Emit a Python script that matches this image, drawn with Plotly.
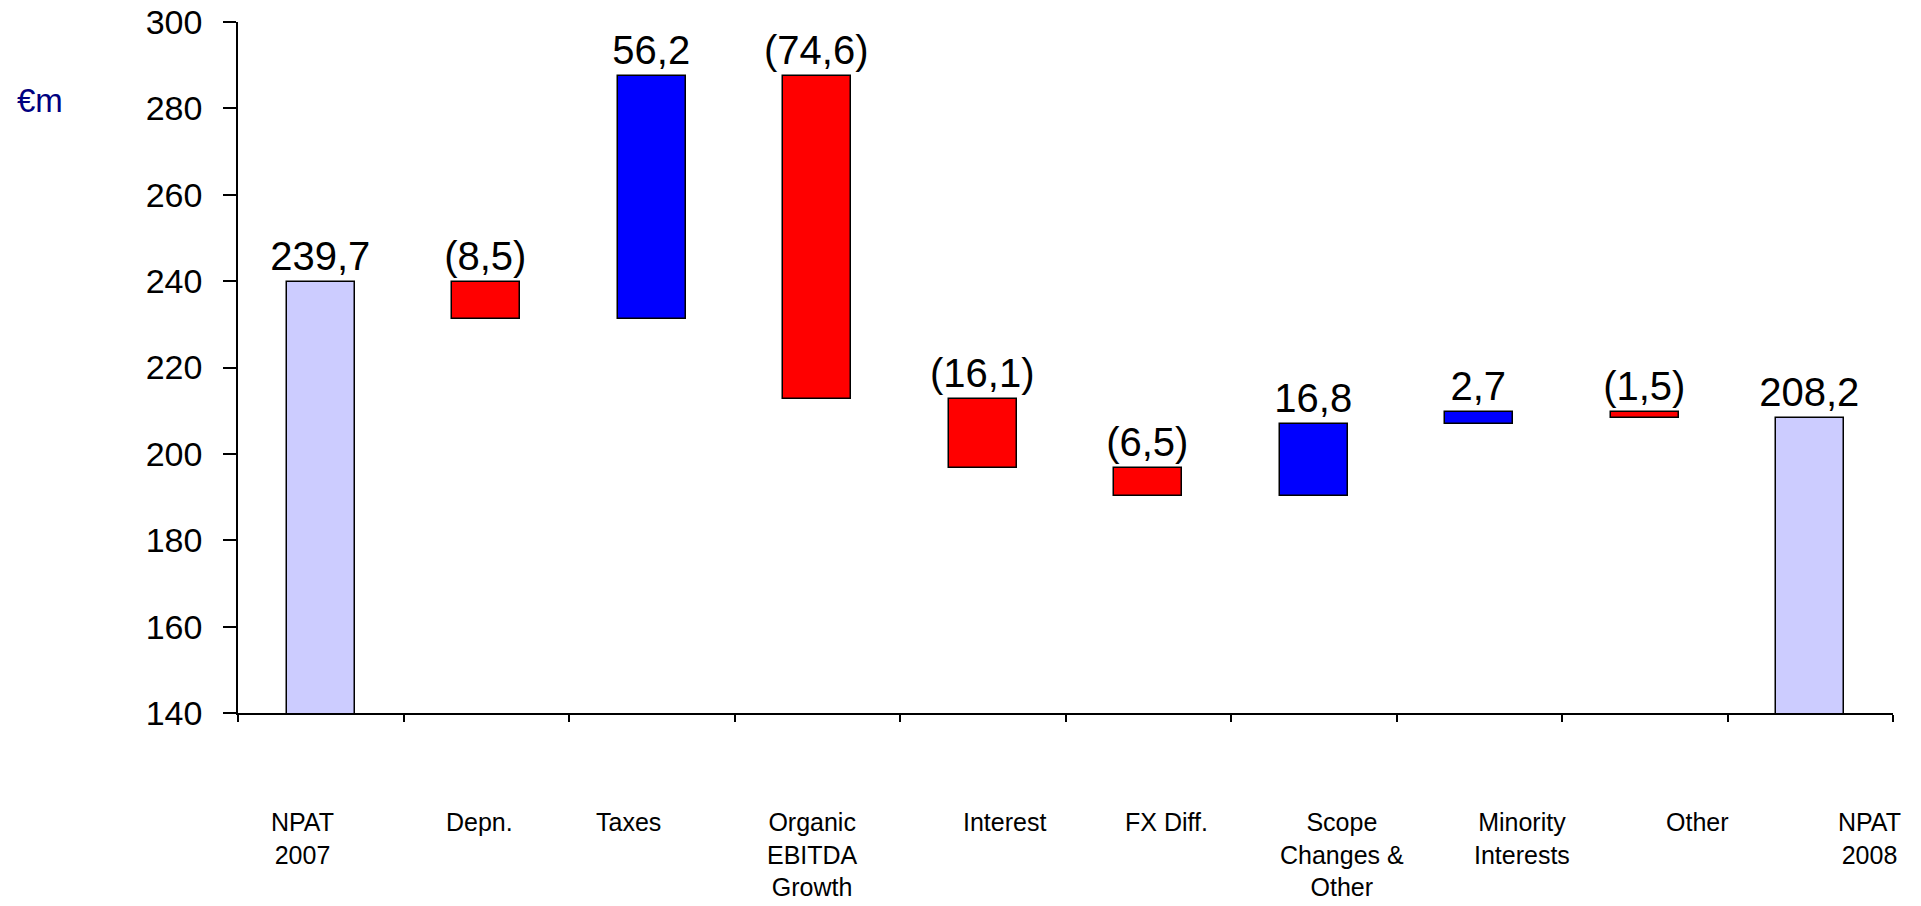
import plotly.graph_objects as go

# Bridge from NPAT 2007 to NPAT 2008 (€m)
categories = [
    "NPAT<br>2007",
    "Depn.",
    "Taxes",
    "Organic<br>EBITDA<br>Growth",
    "Interest",
    "FX Diff.",
    "Scope<br>Changes &<br>Other",
    "Minority<br>Interests",
    "Other",
    "NPAT<br>2008",
]
start_value = 239.7
changes = [-8.5, 56.2, -74.6, -16.1, -6.5, 16.8, 2.7, -1.5]
end_value = 208.2
y_ticks = [140, 160, 180, 200, 220, 240, 260, 280, 300]

TOTAL_COLOR = "#CCCCFF"
UP_COLOR = "#0000FF"
DOWN_COLOR = "#FF0000"
FONT = "Liberation Sans, Arial, sans-serif"


def fmt(v):
    s = f"{abs(v):.1f}".replace(".", ",")
    return f"({s})" if v < 0 else s


# floating bars: base and height for every step of the bridge
bases, heights, colors, texts = [0], [start_value], [TOTAL_COLOR], [fmt(start_value)]
level = start_value
for c in changes:
    bases.append(min(level, level + c))
    heights.append(abs(c))
    colors.append(UP_COLOR if c > 0 else DOWN_COLOR)
    texts.append(fmt(c))
    level += c
bases.append(0)
heights.append(end_value)
colors.append(TOTAL_COLOR)
texts.append(fmt(end_value))

xs = list(range(len(categories)))
# tick marks sit on the boundaries between categories
boundaries = [i - 0.5 for i in range(len(categories) + 1)]

fig = go.Figure(
    go.Bar(
        x=xs,
        y=heights,
        base=bases,
        width=0.41,
        marker=dict(color=colors, line=dict(color="black", width=1.5)),
        text=texts,
        textposition="outside",
        textfont=dict(family=FONT, size=40, color="black"),
        constraintext="none",
        cliponaxis=False,
        hoverinfo="skip",
    )
)

# category captions sit under the axis, nudged sideways like the slide's text boxes
label_nudge = [-0.11, -0.04, -0.14, -0.03, 0.13, 0.11, 0.17, 0.26, 0.32, 0.36]
annotations = []
for i, (lab, dx) in enumerate(zip(categories, label_nudge)):
    annotations.append(
        dict(
            x=i + dx,
            y=0,
            xref="x",
            yref="paper",
            xanchor="center",
            yanchor="top",
            yshift=-93,
            text=lab,
            showarrow=False,
            align="center",
            font=dict(family=FONT, size=25, color="black"),
        )
    )

annotations.append(
    dict(
        x=-0.1195,
        y=0.887,
        xref="paper",
        yref="paper",
        xanchor="center",
        yanchor="middle",
        text="€m",
        showarrow=False,
        font=dict(family=FONT, size=33, color="#000080"),
    )
)

fig.update_layout(
    width=1921,
    height=906,
    margin=dict(l=238, r=28, t=22, b=193, autoexpand=False),
    paper_bgcolor="white",
    plot_bgcolor="white",
    showlegend=False,
    bargap=0,
    annotations=annotations,
    xaxis=dict(
        range=[-0.5, len(categories) - 0.5],
        tickmode="array",
        tickvals=boundaries,
        showticklabels=False,
        showline=True,
        linecolor="black",
        linewidth=1.5,
        ticks="outside",
        ticklen=7,
        tickwidth=1.5,
        tickcolor="black",
        showgrid=False,
        zeroline=False,
        automargin=False,
    ),
    yaxis=dict(
        range=[140, 300],
        tickmode="array",
        tickvals=y_ticks,
        ticktext=[str(t) for t in y_ticks],
        showline=True,
        linecolor="black",
        linewidth=1.5,
        ticks="outside",
        ticklen=13,
        tickwidth=1.5,
        tickcolor="black",
        ticklabelstandoff=14,
        tickfont=dict(family=FONT, size=34, color="black"),
        showgrid=False,
        zeroline=False,
        automargin=False,
    ),
)

fig.write_html("out.html")
